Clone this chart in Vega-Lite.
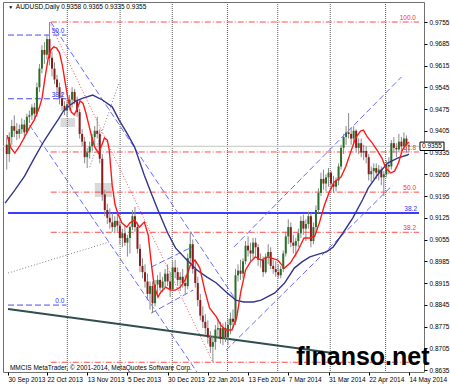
{
"$schema":"https://vega.github.io/schema/vega-lite/v6.json",
"width":421,"height":370,
"autosize":{"type":"none"},
"padding":{"left":3,"top":2,"right":26,"bottom":13},
"background":"white",
"config":{"view":{"stroke":"#707070","strokeWidth":1},"font":"Liberation Sans","axis":{"labelOverlap":false,"labelFlush":false,"labelBound":false}},
"datasets":{
"candles":[
{"i":0,"o":0.9360,"h":0.9385,"l":0.9280,"c":0.9330},{"i":1,"o":0.9330,"h":0.9400,"l":0.9305,"c":0.9385},{"i":2,"o":0.9385,"h":0.9440,"l":0.9360,"c":0.9420},{"i":3,"o":0.9420,"h":0.9455,"l":0.9385,"c":0.9405},{"i":4,"o":0.9405,"h":0.9430,"l":0.9375,"c":0.9395},{"i":5,"o":0.9395,"h":0.9425,"l":0.9380,"c":0.9410},{"i":6,"o":0.9410,"h":0.9445,"l":0.9395,"c":0.9425},{"i":7,"o":0.9425,"h":0.9440,"l":0.9380,"c":0.9400},{"i":8,"o":0.9400,"h":0.9460,"l":0.9395,"c":0.9450},{"i":9,"o":0.9450,"h":0.9470,"l":0.9430,"c":0.9455},
{"i":10,"o":0.9455,"h":0.9490,"l":0.9440,"c":0.9480},{"i":11,"o":0.9480,"h":0.9495,"l":0.9440,"c":0.9460},{"i":12,"o":0.9460,"h":0.9560,"l":0.9450,"c":0.9545},{"i":13,"o":0.9545,"h":0.9620,"l":0.9530,"c":0.9605},{"i":14,"o":0.9605,"h":0.9680,"l":0.9590,"c":0.9665},{"i":15,"o":0.9665,"h":0.9690,"l":0.9620,"c":0.9650},{"i":16,"o":0.9650,"h":0.9715,"l":0.9635,"c":0.9700},{"i":17,"o":0.9700,"h":0.9755,"l":0.9615,"c":0.9640},{"i":18,"o":0.9640,"h":0.9660,"l":0.9580,"c":0.9605},{"i":19,"o":0.9605,"h":0.9625,"l":0.9555,"c":0.9570},
{"i":20,"o":0.9570,"h":0.9585,"l":0.9530,"c":0.9545},{"i":21,"o":0.9545,"h":0.9560,"l":0.9490,"c":0.9510},{"i":22,"o":0.9510,"h":0.9530,"l":0.9470,"c":0.9485},{"i":23,"o":0.9485,"h":0.9500,"l":0.9455,"c":0.9470},{"i":24,"o":0.9470,"h":0.9505,"l":0.9450,"c":0.9490},{"i":25,"o":0.9490,"h":0.9520,"l":0.9470,"c":0.9505},{"i":26,"o":0.9505,"h":0.9545,"l":0.9480,"c":0.9530},{"i":27,"o":0.9530,"h":0.9540,"l":0.9490,"c":0.9500},{"i":28,"o":0.9500,"h":0.9515,"l":0.9450,"c":0.9465},{"i":29,"o":0.9465,"h":0.9475,"l":0.9380,"c":0.9395},
{"i":30,"o":0.9395,"h":0.9410,"l":0.9355,"c":0.9370},{"i":31,"o":0.9370,"h":0.9385,"l":0.9300,"c":0.9320},{"i":32,"o":0.9320,"h":0.9350,"l":0.9285,"c":0.9335},{"i":33,"o":0.9335,"h":0.9370,"l":0.9315,"c":0.9355},{"i":34,"o":0.9355,"h":0.9395,"l":0.9340,"c":0.9385},{"i":35,"o":0.9385,"h":0.9420,"l":0.9360,"c":0.9405},{"i":36,"o":0.9405,"h":0.9450,"l":0.9380,"c":0.9395},{"i":37,"o":0.9395,"h":0.9410,"l":0.9300,"c":0.9315},{"i":38,"o":0.9315,"h":0.9330,"l":0.9180,"c":0.9200},{"i":39,"o":0.9200,"h":0.9215,"l":0.9130,"c":0.9150},
{"i":40,"o":0.9150,"h":0.9170,"l":0.9105,"c":0.9125},{"i":41,"o":0.9125,"h":0.9155,"l":0.9090,"c":0.9110},{"i":42,"o":0.9110,"h":0.9140,"l":0.9080,"c":0.9095},{"i":43,"o":0.9095,"h":0.9130,"l":0.9075,"c":0.9115},{"i":44,"o":0.9115,"h":0.9140,"l":0.9080,"c":0.9100},{"i":45,"o":0.9100,"h":0.9115,"l":0.9040,"c":0.9060},{"i":46,"o":0.9060,"h":0.9090,"l":0.9030,"c":0.9075},{"i":47,"o":0.9075,"h":0.9100,"l":0.9035,"c":0.9045},{"i":48,"o":0.9045,"h":0.9070,"l":0.9000,"c":0.9060},{"i":49,"o":0.9060,"h":0.9100,"l":0.9010,"c":0.9095},
{"i":50,"o":0.9095,"h":0.9150,"l":0.9085,"c":0.9130},{"i":51,"o":0.9130,"h":0.9160,"l":0.9080,"c":0.9095},{"i":52,"o":0.9095,"h":0.9110,"l":0.9010,"c":0.9025},{"i":53,"o":0.9025,"h":0.9040,"l":0.8950,"c":0.8970},{"i":54,"o":0.8970,"h":0.8995,"l":0.8930,"c":0.8950},{"i":55,"o":0.8950,"h":0.8975,"l":0.8900,"c":0.8920},{"i":56,"o":0.8920,"h":0.8945,"l":0.8860,"c":0.8880},{"i":57,"o":0.8880,"h":0.8920,"l":0.8830,"c":0.8905},{"i":58,"o":0.8905,"h":0.8920,"l":0.8818,"c":0.8850},{"i":59,"o":0.8850,"h":0.8925,"l":0.8840,"c":0.8910},
{"i":60,"o":0.8910,"h":0.8940,"l":0.8880,"c":0.8925},{"i":61,"o":0.8925,"h":0.8950,"l":0.8890,"c":0.8900},{"i":62,"o":0.8900,"h":0.8935,"l":0.8885,"c":0.8920},{"i":63,"o":0.8920,"h":0.8960,"l":0.8900,"c":0.8945},{"i":64,"o":0.8945,"h":0.8975,"l":0.8905,"c":0.8920},{"i":65,"o":0.8920,"h":0.8950,"l":0.8870,"c":0.8895},{"i":66,"o":0.8895,"h":0.8985,"l":0.8890,"c":0.8965},{"i":67,"o":0.8965,"h":0.8990,"l":0.8930,"c":0.8950},{"i":68,"o":0.8950,"h":0.8965,"l":0.8905,"c":0.8925},{"i":69,"o":0.8925,"h":0.8950,"l":0.8890,"c":0.8935},
{"i":70,"o":0.8935,"h":0.8960,"l":0.8900,"c":0.8915},{"i":71,"o":0.8915,"h":0.8940,"l":0.8880,"c":0.8905},{"i":72,"o":0.8905,"h":0.9010,"l":0.8895,"c":0.8995},{"i":73,"o":0.8995,"h":0.9080,"l":0.8975,"c":0.9040},{"i":74,"o":0.9040,"h":0.9055,"l":0.8945,"c":0.8960},{"i":75,"o":0.8960,"h":0.8985,"l":0.8900,"c":0.8915},{"i":76,"o":0.8915,"h":0.8935,"l":0.8840,"c":0.8860},{"i":77,"o":0.8860,"h":0.8880,"l":0.8795,"c":0.8810},{"i":78,"o":0.8810,"h":0.8840,"l":0.8770,"c":0.8790},{"i":79,"o":0.8790,"h":0.8815,"l":0.8750,"c":0.8770},
{"i":80,"o":0.8770,"h":0.8795,"l":0.8720,"c":0.8740},{"i":81,"o":0.8740,"h":0.8760,"l":0.8690,"c":0.8710},{"i":82,"o":0.8710,"h":0.8745,"l":0.8660,"c":0.8725},{"i":83,"o":0.8725,"h":0.8780,"l":0.8700,"c":0.8765},{"i":84,"o":0.8765,"h":0.8800,"l":0.8740,"c":0.8770},{"i":85,"o":0.8770,"h":0.8790,"l":0.8720,"c":0.8735},{"i":86,"o":0.8735,"h":0.8785,"l":0.8715,"c":0.8770},{"i":87,"o":0.8770,"h":0.8790,"l":0.8725,"c":0.8740},{"i":88,"o":0.8740,"h":0.8800,"l":0.8715,"c":0.8780},{"i":89,"o":0.8780,"h":0.8820,"l":0.8750,"c":0.8800},
{"i":90,"o":0.8800,"h":0.8830,"l":0.8770,"c":0.8790},{"i":91,"o":0.8790,"h":0.8960,"l":0.8780,"c":0.8940},{"i":92,"o":0.8940,"h":0.8975,"l":0.8920,"c":0.8955},{"i":93,"o":0.8955,"h":0.8990,"l":0.8925,"c":0.8945},{"i":94,"o":0.8945,"h":0.8995,"l":0.8930,"c":0.8985},{"i":95,"o":0.8985,"h":0.9050,"l":0.8975,"c":0.9035},{"i":96,"o":0.9035,"h":0.9065,"l":0.9000,"c":0.9020},{"i":97,"o":0.9020,"h":0.9045,"l":0.8985,"c":0.9010},{"i":98,"o":0.9010,"h":0.9060,"l":0.8995,"c":0.9045},{"i":99,"o":0.9045,"h":0.9060,"l":0.9000,"c":0.9030},
{"i":100,"o":0.9030,"h":0.9040,"l":0.8970,"c":0.8990},{"i":101,"o":0.8990,"h":0.9010,"l":0.8965,"c":0.8990},{"i":102,"o":0.8990,"h":0.9000,"l":0.8935,"c":0.8950},{"i":103,"o":0.8950,"h":0.9010,"l":0.8945,"c":0.9000},{"i":104,"o":0.9000,"h":0.9040,"l":0.8975,"c":0.9015},{"i":105,"o":0.9015,"h":0.9030,"l":0.8960,"c":0.8970},{"i":106,"o":0.8970,"h":0.8990,"l":0.8945,"c":0.8960},{"i":107,"o":0.8960,"h":0.8985,"l":0.8935,"c":0.8950},{"i":108,"o":0.8950,"h":0.8975,"l":0.8930,"c":0.8940},{"i":109,"o":0.8940,"h":0.8970,"l":0.8930,"c":0.8960},
{"i":110,"o":0.8960,"h":0.9020,"l":0.8950,"c":0.9010},{"i":111,"o":0.9010,"h":0.9080,"l":0.9000,"c":0.9065},{"i":112,"o":0.9065,"h":0.9120,"l":0.9040,"c":0.9095},{"i":113,"o":0.9095,"h":0.9110,"l":0.9030,"c":0.9045},{"i":114,"o":0.9045,"h":0.9070,"l":0.9010,"c":0.9035},{"i":115,"o":0.9035,"h":0.9060,"l":0.9000,"c":0.9050},{"i":116,"o":0.9050,"h":0.9090,"l":0.9030,"c":0.9075},{"i":117,"o":0.9075,"h":0.9130,"l":0.9060,"c":0.9115},{"i":118,"o":0.9115,"h":0.9135,"l":0.9070,"c":0.9090},{"i":119,"o":0.9090,"h":0.9120,"l":0.9050,"c":0.9105},
{"i":120,"o":0.9105,"h":0.9145,"l":0.9090,"c":0.9130},{"i":121,"o":0.9130,"h":0.9140,"l":0.9030,"c":0.9050},{"i":122,"o":0.9050,"h":0.9110,"l":0.9040,"c":0.9095},{"i":123,"o":0.9095,"h":0.9165,"l":0.9080,"c":0.9150},{"i":124,"o":0.9150,"h":0.9220,"l":0.9140,"c":0.9205},{"i":125,"o":0.9205,"h":0.9270,"l":0.9195,"c":0.9250},{"i":126,"o":0.9250,"h":0.9280,"l":0.9215,"c":0.9235},{"i":127,"o":0.9235,"h":0.9265,"l":0.9210,"c":0.9255},{"i":128,"o":0.9255,"h":0.9285,"l":0.9225,"c":0.9270},{"i":129,"o":0.9270,"h":0.9275,"l":0.9215,"c":0.9235},
{"i":130,"o":0.9235,"h":0.9260,"l":0.9205,"c":0.9225},{"i":131,"o":0.9225,"h":0.9255,"l":0.9210,"c":0.9245},{"i":132,"o":0.9245,"h":0.9300,"l":0.9230,"c":0.9290},{"i":133,"o":0.9290,"h":0.9360,"l":0.9280,"c":0.9350},{"i":134,"o":0.9350,"h":0.9395,"l":0.9330,"c":0.9385},{"i":135,"o":0.9385,"h":0.9420,"l":0.9360,"c":0.9400},{"i":136,"o":0.9400,"h":0.9462,"l":0.9380,"c":0.9395},{"i":137,"o":0.9395,"h":0.9415,"l":0.9360,"c":0.9380},{"i":138,"o":0.9380,"h":0.9420,"l":0.9360,"c":0.9405},{"i":139,"o":0.9405,"h":0.9410,"l":0.9335,"c":0.9350},
{"i":140,"o":0.9350,"h":0.9380,"l":0.9330,"c":0.9365},{"i":141,"o":0.9365,"h":0.9380,"l":0.9320,"c":0.9335},{"i":142,"o":0.9335,"h":0.9360,"l":0.9310,"c":0.9340},{"i":143,"o":0.9340,"h":0.9355,"l":0.9300,"c":0.9320},{"i":144,"o":0.9320,"h":0.9330,"l":0.9245,"c":0.9265},{"i":145,"o":0.9265,"h":0.9290,"l":0.9240,"c":0.9275},{"i":146,"o":0.9275,"h":0.9300,"l":0.9250,"c":0.9285},{"i":147,"o":0.9285,"h":0.9300,"l":0.9250,"c":0.9270},{"i":148,"o":0.9270,"h":0.9295,"l":0.9245,"c":0.9280},{"i":149,"o":0.9280,"h":0.9290,"l":0.9230,"c":0.9255},
{"i":150,"o":0.9255,"h":0.9275,"l":0.9195,"c":0.9265},{"i":151,"o":0.9265,"h":0.9310,"l":0.9255,"c":0.9295},{"i":152,"o":0.9295,"h":0.9320,"l":0.9265,"c":0.9290},{"i":153,"o":0.9290,"h":0.9375,"l":0.9280,"c":0.9365},{"i":154,"o":0.9365,"h":0.9385,"l":0.9335,"c":0.9350},{"i":155,"o":0.9350,"h":0.9365,"l":0.9320,"c":0.9345},{"i":156,"o":0.9345,"h":0.9395,"l":0.9335,"c":0.9370},{"i":157,"o":0.9370,"h":0.9385,"l":0.9340,"c":0.9355},{"i":158,"o":0.9355,"h":0.9400,"l":0.9345,"c":0.9380},{"i":159,"o":0.9380,"h":0.9390,"l":0.9335,"c":0.9358},
{"i":160,"o":0.9358,"h":0.9365,"l":0.9335,"c":0.9355}
],
"maFast":[
{"i":0.11,"p":0.9391},{"i":1.66,"p":0.9350},{"i":3.21,"p":0.9333},{"i":5.15,"p":0.9356},{"i":7.08,"p":0.9385},{"i":9.02,"p":0.9414},{"i":10.96,"p":0.9440},{"i":12.89,"p":0.9478},{"i":14.06,"p":0.9510},{"i":15.22,"p":0.9575},{"i":16.38,"p":0.9633},{"i":17.54,"p":0.9665},{"i":18.71,"p":0.9675},{"i":19.87,"p":0.9671},{"i":21.03,"p":0.9655},{"i":22.19,"p":0.9613},{"i":23.35,"p":0.9555},{"i":24.52,"p":0.9501},{"i":25.68,"p":0.9465},{"i":26.84,"p":0.9456},{"i":28.0,"p":0.9475},{"i":29.16,"p":0.9501},{"i":30.33,"p":0.9494},{"i":31.49,"p":0.9462},{"i":32.65,"p":0.9424},{"i":33.81,"p":0.9385},{"i":34.97,"p":0.9353},{"i":36.52,"p":0.9333},{"i":37.69,"p":0.9356},{"i":38.85,"p":0.9382},{"i":40.01,"p":0.9375},{"i":40.79,"p":0.9343},{"i":41.95,"p":0.9230},{"i":43.11,"p":0.9166},{"i":44.27,"p":0.9137},{"i":45.82,"p":0.9108},{"i":47.76,"p":0.9095},{"i":48.92,"p":0.9108},{"i":50.86,"p":0.9118},{"i":52.79,"p":0.9095},{"i":54.73,"p":0.9111},{"i":56.28,"p":0.9069},{"i":57.44,"p":0.8983},{"i":58.6,"p":0.8908},{"i":60.15,"p":0.8870},{"i":61.32,"p":0.8886},{"i":63.25,"p":0.8902},{"i":65.19,"p":0.8892},{"i":67.13,"p":0.8892},{"i":69.06,"p":0.8902},{"i":71.0,"p":0.8925},{"i":72.94,"p":0.8970},{"i":74.87,"p":0.8989},{"i":76.81,"p":0.8963},{"i":78.75,"p":0.8892},{"i":80.68,"p":0.8835},{"i":83.39,"p":0.8806},{"i":85.33,"p":0.8777},{"i":87.27,"p":0.8764},{"i":89.59,"p":0.8764},{"i":91.53,"p":0.8806},{"i":93.08,"p":0.8886},{"i":95.02,"p":0.8957},{"i":96.95,"p":0.8983},{"i":98.89,"p":0.8999},{"i":101.21,"p":0.8989},{"i":103.93,"p":0.8999},{"i":107.8,"p":0.8989},{"i":110.51,"p":0.8963},{"i":112.84,"p":0.8980},{"i":115.55,"p":0.9015},{"i":118.26,"p":0.9060},{"i":120.58,"p":0.9060},{"i":122.52,"p":0.9066},{"i":124.45,"p":0.9111},{"i":126.39,"p":0.9166},{"i":128.33,"p":0.9208},{"i":130.27,"p":0.9240},{"i":132.98,"p":0.9256},{"i":134.92,"p":0.9291},{"i":136.85,"p":0.9337},{"i":138.79,"p":0.9382},{"i":140.73,"p":0.9404},{"i":141.89,"p":0.9407},{"i":143.44,"p":0.9385},{"i":145.37,"p":0.9366},{"i":147.31,"p":0.9343},{"i":149.25,"p":0.9317},{"i":150.79,"p":0.9285},{"i":152.73,"p":0.9269},{"i":154.28,"p":0.9275},{"i":155.83,"p":0.9301},{"i":157.38,"p":0.9343},{"i":158.93,"p":0.9362},{"i":160.0,"p":0.9368}
],
"maSlow":[
{"i":-0.66,"p":0.9172},{"i":3.21,"p":0.9214},{"i":7.08,"p":0.9259},{"i":10.96,"p":0.9317},{"i":14.83,"p":0.9372},{"i":18.71,"p":0.9420},{"i":20.64,"p":0.9443},{"i":22.58,"p":0.9469},{"i":25.29,"p":0.9488},{"i":27.61,"p":0.9501},{"i":30.33,"p":0.9510},{"i":34.2,"p":0.9520},{"i":38.07,"p":0.9504},{"i":41.95,"p":0.9482},{"i":44.66,"p":0.9440},{"i":47.76,"p":0.9398},{"i":50.86,"p":0.9353},{"i":54.73,"p":0.9262},{"i":57.44,"p":0.9205},{"i":60.15,"p":0.9150},{"i":64.03,"p":0.9076},{"i":67.13,"p":0.9028},{"i":71.0,"p":0.8995},{"i":75.65,"p":0.8957},{"i":79.52,"p":0.8935},{"i":83.39,"p":0.8915},{"i":87.27,"p":0.8886},{"i":91.14,"p":0.8860},{"i":94.24,"p":0.8854},{"i":98.11,"p":0.8854},{"i":101.21,"p":0.8860},{"i":106.64,"p":0.8883},{"i":110.51,"p":0.8915},{"i":114.38,"p":0.8963},{"i":117.48,"p":0.8983},{"i":120.58,"p":0.8999},{"i":124.07,"p":0.9008},{"i":127.17,"p":0.9015},{"i":129.88,"p":0.9031},{"i":133.75,"p":0.9076},{"i":137.63,"p":0.9124},{"i":141.5,"p":0.9182},{"i":143.83,"p":0.9221},{"i":147.7,"p":0.9265},{"i":151.56,"p":0.9301},{"i":155.44,"p":0.9317},{"i":159.32,"p":0.9327},{"i":160.0,"p":0.9330}
],
"grid":[{"i":24.1},{"i":45.1},{"i":65.85},{"i":87.8},{"i":107.8},{"i":128.7},{"i":150.7}],
"fib":[
{"set":"red","level":100,"p":0.9755,"i0":17.5,"i1":164},
{"set":"red","level":61.8,"p":0.93367,"i0":17.5,"i1":164},
{"set":"red","level":50,"p":0.92075,"i0":17.5,"i1":164},
{"set":"red","level":38.2,"p":0.90783,"i0":17.5,"i1":164},
{"set":"red0","level":0,"p":0.8660,"i0":17.5,"i1":164},
{"set":"blue","level":50,"p":0.9713,"i0":0.5,"i1":23.7},
{"set":"blue","level":38.2,"p":0.9508,"i0":0.5,"i1":23.7},
{"set":"blue","level":0,"p":0.8844,"i0":0.5,"i1":23.7},
{"set":"level","level":38.2,"p":0.91403,"i0":0.5,"i1":164}
],
"segs":[
{"kind":"chan","i1":17.5,"p1":0.9755,"i2":90.37,"p2":0.8870},
{"kind":"chan","i1":9.02,"p1":0.9424,"i2":75.65,"p2":0.86286},
{"kind":"chan","i1":57.44,"p1":0.8966,"i2":73.71,"p2":0.9031},
{"kind":"chan","i1":57.44,"p1":0.8818,"i2":74.1,"p2":0.8892},
{"kind":"chan","i1":87.27,"p1":0.8699,"i2":153.5,"p2":0.9230},
{"kind":"chan","i1":90.37,"p1":0.9031,"i2":157.0,"p2":0.9578},
{"kind":"trend","i1":0.5,"p1":0.8831,"i2":131.05,"p2":0.8688},
{"kind":"fibline","i1":17.0,"p1":0.9755,"i2":82.0,"p2":0.8660},
{"kind":"gray","i1":0.5,"p1":0.8947,"i2":40.79,"p2":0.9047},
{"kind":"gray","i1":33.04,"p1":0.9288,"i2":44.66,"p2":0.9559}
],
"boxes":[{"i1":21.4,"i2":27.2,"p1":0.9446,"p2":0.9417},{"i1":35.0,"i2":41.9,"p1":0.9237,"p2":0.9192}]
},
"layer":[
{"data":{"name":"boxes"},"mark":{"type":"rect","color":"#d9d9d9"},
 "encoding":{"x":{"field":"i1","type":"quantitative","scale":{"domain":[0.5,164],"nice":false,"zero":false},"title":null,
   "axis":{"values":[0.5,16,32,48,64,80,96,112,128,144,160],"tickCount":30,"labelExpr":"['30 Sep 2013','22 Oct 2013','13 Nov 2013','5 Dec 2013','30 Dec 2013','22 Jan 2014','13 Feb 2014','7 Mar 2014','31 Mar 2014','22 Apr 2014','14 May 2014'][round(datum.value/16)]","labelAlign":"left","labelFont":"Liberation Sans","labelFontSize":6.5,"labelColor":"#000","tickSize":3,"tickColor":"#000","domain":false,"grid":false,"labelPadding":1,"labelBaseline":"top","labelFlush":false,"labelBound":false,"labelOverlap":false,"title":null}},
  "x2":{"field":"i2"},
  "y":{"field":"p1","type":"quantitative","scale":{"domain":[0.86286,0.98194],"nice":false,"zero":false},"title":null,
   "axis":{"orient":"right","values":[0.8635,0.8705,0.8775,0.8845,0.8915,0.8985,0.9055,0.9125,0.9195,0.9265,0.9335,0.9405,0.9475,0.9545,0.9615,0.9685,0.9755],"tickCount":40,"format":".4f","labelFont":"Liberation Sans","labelFontSize":6.5,"labelColor":"#000","tickSize":3,"tickColor":"#000","domain":false,"grid":false,"labelPadding":2,"labelOverlap":false,"labelFlush":false,"labelBound":false,"title":null}},
  "y2":{"field":"p2"}}},
{"data":{"name":"grid"},"mark":{"type":"rule","color":"#606060","strokeDash":[1,1],"strokeWidth":1},
 "encoding":{"x":{"field":"i","type":"quantitative","title":null}}},
{"data":{"values":[{"p":0.9355}]},"mark":{"type":"rule","color":"#c4c4c4","strokeWidth":1},
 "encoding":{"y":{"field":"p","type":"quantitative","title":null}}},
{"data":{"name":"fib"},"transform":[{"filter":"datum.set=='red' || datum.set=='red0'"}],"mark":{"type":"rule","color":"#ff4a4a","strokeDash":[6,2,1,2],"strokeWidth":1,"clip":true},
 "encoding":{"x":{"field":"i0","type":"quantitative","title":null},"x2":{"field":"i1"},"y":{"field":"p","type":"quantitative","title":null}}},
{"data":{"name":"fib"},"transform":[{"filter":"datum.set=='blue'"}],"mark":{"type":"rule","color":"#4a4aff","strokeDash":[6,3],"strokeWidth":1,"clip":true},
 "encoding":{"x":{"field":"i0","type":"quantitative","title":null},"x2":{"field":"i1"},"y":{"field":"p","type":"quantitative","title":null}}},
{"data":{"name":"fib"},"transform":[{"filter":"datum.set=='level'"}],"mark":{"type":"rule","color":"#3c3cff","strokeWidth":2,"clip":true},
 "encoding":{"x":{"field":"i0","type":"quantitative","title":null},"x2":{"field":"i1"},"y":{"field":"p","type":"quantitative","title":null}}},
{"data":{"name":"segs"},"transform":[{"filter":"datum.kind=='chan'"}],"mark":{"type":"rule","color":"#6a6aff","strokeDash":[6,3],"strokeWidth":1,"clip":true},
 "encoding":{"x":{"field":"i1","type":"quantitative","title":null},"x2":{"field":"i2"},"y":{"field":"p1","type":"quantitative","title":null},"y2":{"field":"p2"}}},
{"data":{"name":"segs"},"transform":[{"filter":"datum.kind=='trend'"}],"mark":{"type":"rule","color":"#2f4f4f","strokeWidth":2,"clip":true},
 "encoding":{"x":{"field":"i1","type":"quantitative","title":null},"x2":{"field":"i2"},"y":{"field":"p1","type":"quantitative","title":null},"y2":{"field":"p2"}}},
{"data":{"name":"segs"},"transform":[{"filter":"datum.kind=='fibline'"}],"mark":{"type":"rule","color":"#ff4a4a","strokeDash":[1,2],"strokeWidth":1,"clip":true},
 "encoding":{"x":{"field":"i1","type":"quantitative","title":null},"x2":{"field":"i2"},"y":{"field":"p1","type":"quantitative","title":null},"y2":{"field":"p2"}}},
{"data":{"name":"segs"},"transform":[{"filter":"datum.kind=='gray'"}],"mark":{"type":"rule","color":"#808080","strokeDash":[1,2],"strokeWidth":1,"clip":true},
 "encoding":{"x":{"field":"i1","type":"quantitative","title":null},"x2":{"field":"i2"},"y":{"field":"p1","type":"quantitative","title":null},"y2":{"field":"p2"}}},
{"data":{"name":"candles"},"mark":{"type":"rule","color":"#8a8a8a","strokeWidth":1,"clip":true},
 "encoding":{"x":{"field":"i","type":"quantitative","title":null},"y":{"field":"l","type":"quantitative","title":null},"y2":{"field":"h"}}},
{"data":{"name":"candles"},"mark":{"type":"bar","size":2,"clip":true,"orient":"vertical"},
 "encoding":{"x":{"field":"i","type":"quantitative","title":null},"y":{"field":"o","type":"quantitative","title":null},"y2":{"field":"c"},
  "color":{"condition":{"test":"datum.c >= datum.o","value":"#2a6e2a"},"value":"#8b1a1a"}}},
{"data":{"name":"maSlow"},"mark":{"type":"line","color":"#35358a","strokeWidth":1.4,"clip":true},
 "encoding":{"x":{"field":"i","type":"quantitative","title":null},"y":{"field":"p","type":"quantitative","title":null}}},
{"data":{"name":"maFast"},"mark":{"type":"line","color":"#ff1a1a","strokeWidth":1.4,"clip":true},
 "encoding":{"x":{"field":"i","type":"quantitative","title":null},"y":{"field":"p","type":"quantitative","title":null}}},
{"data":{"name":"fib"},"transform":[{"filter":"datum.set=='red'"}],"mark":{"type":"text","color":"#ff3030","fontSize":6.5,"align":"right","baseline":"bottom","dx":-3,"dy":-1},
 "encoding":{"x":{"field":"i1","type":"quantitative","title":null},"y":{"field":"p","type":"quantitative","title":null},"text":{"field":"level","type":"quantitative","format":".1f"}}},
{"data":{"name":"fib"},"transform":[{"filter":"datum.set=='blue' || datum.set=='level'"}],"mark":{"type":"text","color":"#3030ff","fontSize":6.5,"align":"right","baseline":"bottom","dx":-2,"dy":-1},
 "encoding":{"x":{"field":"i1","type":"quantitative","title":null},"y":{"field":"p","type":"quantitative","title":null},"text":{"field":"level","type":"quantitative","format":".1f"}}},
{"data":{"values":[{"t":"AUDUSD,Daily  0.9358 0.9365 0.9335 0.9355"}]},"mark":{"type":"text","fontSize":6.5,"color":"#000","align":"left","baseline":"middle"},
 "encoding":{"x":{"datum":3.6,"type":"quantitative"},"y":{"datum":0.98049,"type":"quantitative"},"text":{"field":"t"}}},
{"data":{"values":[{"t":"▼"}]},"mark":{"type":"text","fontSize":5,"color":"#000","align":"left","baseline":"middle"},
 "encoding":{"x":{"datum":0.6,"type":"quantitative"},"y":{"datum":0.98049,"type":"quantitative"},"text":{"field":"t"}}},
{"data":{"values":[{"t":"MMCIS MetaTrader, © 2001-2014, MetaQuotes Software Corp."}]},"mark":{"type":"text","fontSize":6.5,"color":"#000","align":"left","baseline":"middle"},
 "encoding":{"x":{"datum":1.27,"type":"quantitative"},"y":{"datum":0.8643,"type":"quantitative"},"text":{"field":"t"}}},
{"data":{"values":[{"p":0.9355}]},"mark":{"type":"point","shape":"M-1,-0.35H1V0.35H-1Z","size":576,"filled":true,"fill":"#ffffff","stroke":"#000000","strokeWidth":1,"opacity":1,"xOffset":13},
 "encoding":{"x":{"datum":164,"type":"quantitative"},"y":{"field":"p","type":"quantitative","title":null}}},
{"data":{"values":[{"p":0.9355,"t":"0.9355"}]},"mark":{"type":"text","fontSize":6.5,"color":"#000","align":"center","baseline":"middle","dx":13},
 "encoding":{"x":{"datum":164,"type":"quantitative"},"y":{"field":"p","type":"quantitative","title":null},"text":{"field":"t"}}},
{"data":{"values":[{"t":"finanso.net"}]},"mark":{"type":"text","fontSize":25,"fontWeight":"bold","font":"Liberation Sans","color":"#000","align":"left","baseline":"alphabetic"},
 "encoding":{"x":{"datum":115.16,"type":"quantitative"},"y":{"datum":0.8651,"type":"quantitative"},"text":{"field":"t"}}}
]
}
